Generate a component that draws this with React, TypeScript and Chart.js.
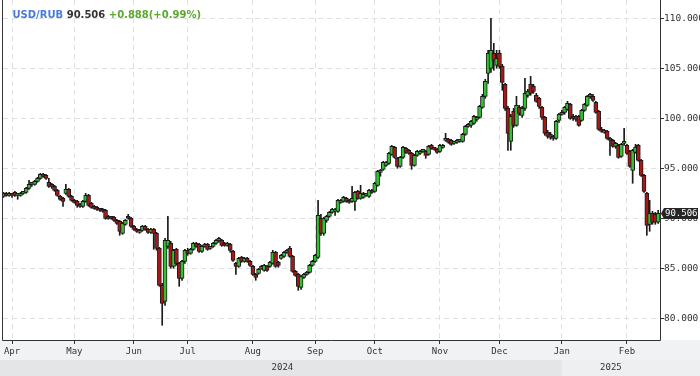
import React, { useEffect, useRef } from 'react';
import { Chart, registerables } from 'chart.js';

Chart.register(...registerables);

// ---------- header texts ----------
const SYMBOL = 'USD/RUB';
const LAST_TEXT = '90.506';
const CHANGE_TEXT = '+0.888(+0.99%)';

// ---------- calendar (trading days) ----------
const FIRST_DAY = '2024-03-27';
const LAST_DAY = '2025-02-18';
const HOLIDAYS = ['2024-05-01', '2024-05-09', '2024-06-12'];
const MONTH_NAMES = ['Jan', 'Feb', 'Mar', 'Apr', 'May', 'Jun', 'Jul', 'Aug', 'Sep', 'Oct', 'Nov', 'Dec'];
const Y_TICKS = [80, 85, 90, 95, 100, 105, 110];

// ---------- OHLC (Mar27-Apr | May | Jun | Jul | Aug | Sep | Oct | Nov | Dec | Jan | Feb) ----------
const OPEN = [
  92.2, 92.5, 92.3, 92.4, 92.6, 92.3, 92.3, 92.5, 92.6, 93.0, 93.4, 93.4, 93.7, 94.0, 94.4, 94.3, 93.6, 93.4, 93.2, 92.8, 92.2, 92.0, 92.5, 92.9, 92.2,
  91.8, 91.7, 91.4, 91.2, 91.7, 92.3, 91.5, 91.2, 91.1, 90.9, 90.9, 90.8, 90.2, 90.1, 90.1, 89.8, 89.7, 88.5, 89.4, 90.2, 90.0,
  89.2, 88.9, 88.6, 88.8, 89.2, 88.9, 88.6, 88.9, 88.5, 87.0, 83.3, 81.7, 87.2, 87.5, 85.2, 86.9, 85.5, 84.0, 85.7,
  86.8, 86.5, 86.9, 87.5, 87.4, 86.7, 87.2, 87.4, 87.0, 87.2, 87.5, 87.8, 87.8, 87.5, 87.3, 87.4, 86.7, 85.5, 85.2, 86.1, 85.7, 86.0, 85.7,
  85.2, 84.4, 84.5, 85.0, 84.8, 85.2, 85.2, 85.5, 86.6, 85.6, 86.0, 86.2, 86.6, 87.0, 86.2, 84.7, 84.4, 83.1, 84.1, 84.4, 84.6, 85.3,
  85.7, 86.1, 90.0, 88.5, 89.8, 90.2, 90.6, 90.7, 90.7, 91.6, 91.7, 92.0, 91.8, 91.7, 91.7, 92.7, 92.0, 92.1, 92.3, 92.2, 92.8,
  92.7, 93.3, 94.6, 94.9, 95.3, 95.5, 96.4, 97.1, 96.0, 95.2, 96.1, 97.0, 96.8, 96.5, 95.3, 96.3, 96.5, 96.7, 96.7, 96.4, 97.3, 97.0, 96.9,
  96.7, 97.1, 97.8, 97.9, 97.8, 97.5, 97.6, 97.7, 97.7, 98.4, 99.2, 99.3, 99.5, 99.9, 100.1, 101.1, 102.2, 104.5, 105.0, 106.5, 105.3,
  106.5, 105.2, 103.4, 101.0, 97.7, 100.7, 99.3, 101.1, 100.3, 101.0, 102.3, 103.4, 103.2, 102.3, 102.0, 101.1, 100.1, 98.6, 98.4, 98.2, 98.0, 99.8,
  100.4, 100.6, 100.9, 101.4, 100.2, 100.2, 100.2, 99.8, 100.8, 101.3, 102.2, 102.2, 101.6, 100.7, 98.9, 98.6, 98.7, 98.0, 97.8, 97.2, 97.3, 96.2, 97.5,
  97.3, 96.7, 94.8, 96.6, 97.3, 95.8, 94.3, 92.5, 89.4, 90.5, 90.4, 89.618,
];
const HIGH = [
  92.6, 92.6, 92.6, 92.5, 92.7, 92.5, 92.6, 92.7, 93.1, 93.8, 93.6, 93.8, 94.1, 94.5, 94.5, 94.4, 94.0, 93.5, 93.3, 92.9, 92.3, 92.1, 93.4, 93.0, 92.3,
  91.9, 91.8, 91.5, 91.8, 92.5, 92.4, 91.6, 91.3, 91.2, 91.0, 91.0, 90.9, 90.3, 90.2, 90.2, 89.9, 89.8, 89.6, 89.9, 90.4, 90.1,
  89.3, 89.0, 88.9, 89.3, 89.3, 89.0, 89.0, 89.0, 88.6, 87.1, 83.5, 88.0, 90.2, 87.7, 86.9, 87.0, 85.6, 85.8, 86.9,
  87.0, 87.0, 87.6, 87.6, 87.5, 87.3, 87.5, 87.5, 87.2, 87.6, 87.9, 88.1, 87.9, 87.6, 87.6, 87.5, 86.8, 85.6, 86.1, 86.2, 86.1, 86.1, 85.8,
  85.3, 84.5, 85.0, 85.3, 85.4, 85.3, 85.7, 86.8, 86.7, 85.7, 86.4, 86.7, 86.9, 87.2, 86.3, 84.8, 84.5, 84.3, 84.5, 84.7, 85.4, 85.8,
  86.4, 91.8, 90.4, 90.1, 90.3, 90.7, 91.0, 91.0, 91.9, 91.9, 92.2, 92.1, 91.9, 93.2, 92.7, 92.8, 93.3, 92.6, 92.5, 92.9, 92.9,
  93.6, 94.8, 94.9, 95.7, 95.7, 96.6, 97.3, 97.2, 96.1, 96.2, 97.2, 97.1, 96.9, 96.6, 96.4, 96.8, 96.8, 96.9, 96.8, 97.3, 97.4, 97.1, 97.0,
  97.4, 97.4, 98.5, 98.0, 97.9, 97.7, 97.9, 97.9, 98.5, 99.3, 99.5, 99.8, 100.3, 100.2, 101.3, 102.4, 103.9, 106.8, 110.0, 107.5, 106.8,
  106.8, 105.4, 103.5, 101.2, 100.4, 101.0, 102.2, 101.3, 101.2, 104.0, 102.9, 104.2, 103.4, 102.5, 102.1, 101.2, 100.2, 98.8, 98.6, 98.3, 99.8, 100.5,
  100.8, 101.2, 101.7, 101.5, 100.4, 100.3, 100.3, 100.9, 101.5, 102.3, 102.5, 102.4, 101.7, 100.8, 99.1, 98.9, 98.8, 98.1, 97.9, 97.6, 97.4, 97.5, 99.0,
  97.4, 96.8, 96.9, 97.4, 97.4, 95.9, 94.4, 92.6, 91.8, 90.7, 90.6, 90.8,
];
const LOW = [
  92.1, 92.2, 92.2, 92.1, 92.2, 91.9, 92.2, 92.4, 92.5, 92.9, 93.2, 93.3, 93.6, 93.9, 94.1, 93.9, 93.1, 93.0, 92.7, 92.2, 91.8, 91.2, 92.4, 92.1, 91.7,
  91.5, 91.1, 91.1, 91.1, 91.6, 91.2, 91.0, 90.9, 90.8, 90.7, 90.6, 89.9, 89.9, 89.9, 89.7, 89.4, 88.3, 88.4, 89.3, 89.9, 89.1,
  88.8, 88.6, 88.5, 88.7, 88.8, 88.5, 88.5, 86.9, 86.8, 83.2, 79.3, 81.3, 87.0, 85.0, 85.0, 85.3, 83.2, 83.8, 85.5,
  86.3, 86.4, 86.8, 87.1, 86.6, 86.6, 87.1, 86.8, 86.9, 87.1, 87.4, 87.6, 87.2, 87.2, 87.2, 86.6, 85.7, 84.4, 85.1, 85.6, 85.6, 85.6, 85.2,
  84.3, 83.8, 84.4, 84.9, 84.7, 84.7, 85.1, 85.4, 85.1, 85.1, 85.9, 86.1, 86.5, 86.1, 84.6, 84.2, 82.8, 82.9, 84.0, 84.3, 84.5, 85.2,
  85.6, 86.0, 88.3, 88.3, 89.6, 90.1, 90.5, 90.3, 90.6, 91.5, 91.6, 91.6, 91.5, 91.6, 90.8, 91.9, 91.9, 92.0, 92.2, 92.1, 92.5,
  92.6, 93.2, 94.2, 94.8, 95.2, 95.4, 96.3, 96.0, 95.0, 95.1, 96.0, 96.5, 96.4, 94.9, 95.2, 96.2, 96.4, 96.6, 96.0, 96.3, 96.9, 96.8, 96.5,
  96.6, 97.0, 97.7, 97.5, 97.3, 97.4, 97.5, 97.6, 97.6, 98.3, 99.1, 99.1, 99.4, 99.7, 100.0, 101.0, 102.0, 103.5, 104.6, 104.8, 105.0,
  105.0, 102.8, 100.8, 96.8, 96.8, 99.1, 99.2, 100.3, 100.1, 100.8, 102.1, 102.3, 102.5, 101.6, 101.0, 99.9, 98.3, 98.0, 97.9, 97.8, 97.9, 99.6,
  100.3, 100.4, 100.8, 99.9, 99.8, 99.7, 99.2, 99.7, 100.7, 101.2, 102.0, 101.7, 100.5, 98.8, 98.6, 98.5, 97.9, 96.3, 97.1, 97.0, 96.0, 96.1, 97.3,
  96.4, 95.1, 93.5, 96.5, 95.7, 94.2, 92.6, 88.3, 88.7, 89.4, 89.4, 89.5,
];
const CLOSE = [
  92.5, 92.3, 92.4, 92.3, 92.3, 92.4, 92.5, 92.6, 93.0, 93.4, 93.5, 93.7, 94.0, 94.4, 94.2, 94.0, 93.2, 93.2, 92.8, 92.3, 91.9, 91.7, 92.9, 92.2, 91.8,
  91.6, 91.3, 91.2, 91.7, 92.3, 91.3, 91.1, 91.0, 90.9, 90.8, 90.7, 90.0, 90.0, 90.0, 89.8, 89.5, 88.7, 89.5, 89.8, 90.0, 89.2,
  88.9, 88.7, 88.8, 89.2, 88.9, 88.6, 88.9, 88.5, 87.0, 83.3, 81.5, 87.8, 87.8, 85.2, 86.8, 85.5, 84.0, 85.7, 86.8,
  86.5, 86.9, 87.5, 87.2, 86.7, 87.2, 87.4, 86.9, 87.1, 87.5, 87.8, 87.8, 87.3, 87.3, 87.5, 86.8, 85.8, 85.2, 86.0, 85.7, 86.0, 85.7, 85.3,
  84.4, 84.1, 84.9, 85.2, 85.3, 84.8, 85.6, 86.6, 85.2, 85.3, 86.3, 86.6, 86.7, 86.2, 84.7, 84.3, 83.2, 84.2, 84.4, 84.6, 85.3, 85.7,
  86.3, 90.3, 88.5, 90.0, 90.2, 90.6, 90.9, 90.9, 91.8, 91.8, 92.1, 91.7, 91.6, 92.0, 92.6, 92.0, 92.5, 92.4, 92.4, 92.8, 92.6,
  93.5, 94.7, 94.8, 95.6, 95.6, 96.5, 97.2, 96.1, 95.2, 96.1, 97.1, 96.6, 96.5, 95.3, 96.3, 96.7, 96.7, 96.8, 96.3, 97.2, 97.0, 96.9, 96.6,
  97.3, 97.3, 97.9, 97.6, 97.4, 97.5, 97.8, 97.8, 98.4, 99.2, 99.4, 99.7, 100.2, 100.0, 101.2, 102.2, 103.7, 106.5, 106.8, 105.8, 106.0,
  105.2, 103.6, 101.0, 98.5, 100.2, 99.3, 101.3, 100.5, 101.0, 102.5, 102.7, 102.5, 102.7, 101.7, 101.2, 100.1, 98.5, 98.2, 98.1, 98.0, 99.7, 100.4,
  100.6, 101.1, 101.5, 100.0, 100.0, 99.9, 99.3, 100.8, 101.4, 102.2, 102.3, 101.8, 100.6, 98.9, 98.7, 98.8, 98.0, 97.8, 97.2, 97.5, 96.1, 97.4, 97.7,
  96.5, 95.2, 96.8, 97.1, 95.8, 94.3, 92.7, 89.3, 90.5, 89.6, 89.618, 90.506,
];

// ---------- styles ----------
const UP_FILL = '#33c033';
const DOWN_FILL = '#a81818';
const CANDLE_EDGE = '#1a1a1a';
const GRID = '#e0e0e0';
const AXIS = '#333333';
const MONO = '"DejaVu Sans Mono", monospace';

function tradingDays(): string[] {
  const out: string[] = [];
  const [y0, m0, d0] = FIRST_DAY.split('-').map(Number);
  const [y1, m1, d1] = LAST_DAY.split('-').map(Number);
  const end = Date.UTC(y1, m1 - 1, d1);
  for (let t = Date.UTC(y0, m0 - 1, d0); t <= end; t += 86400000) {
    const d = new Date(t);
    const wd = d.getUTCDay();
    const iso = d.toISOString().slice(0, 10);
    if (wd === 0 || wd === 6 || HOLIDAYS.includes(iso)) continue;
    out.push(iso);
  }
  return out;
}

const DATES = tradingDays();
const monthOf = (i: number) => Number(DATES[i].slice(5, 7)) - 1;
const MONTH_IDX: number[] = [];
for (let i = 1; i < DATES.length; i++) {
  if (monthOf(i) !== monthOf(i - 1)) MONTH_IDX.push(i);
}
const YEAR_IDX = MONTH_IDX.find((i) => monthOf(i) === 0) as number;

export default function App() {
  const ref = useRef<HTMLCanvasElement | null>(null);

  useEffect(() => {
    document.body.style.margin = '0';
    const canvas = ref.current;
    if (!canvas) return;
    const n = Math.min(DATES.length, OPEN.length);
    const idx = Array.from({ length: n }, (_, i) => i);
    const upColors = idx.map((i) => (CLOSE[i] >= OPEN[i] ? UP_FILL : DOWN_FILL));

    const decor = {
      id: 'decor',
      beforeDraw(chart: any) {
        const { ctx, width, height } = chart;
        const xs = chart.scales.x;
        const ca = chart.chartArea;
        const janX = xs.getPixelForValue(YEAR_IDX);
        ctx.save();
        ctx.fillStyle = '#ffffff';
        ctx.fillRect(0, 0, width, height);
        ctx.fillStyle = '#f1f2f4';
        ctx.fillRect(0, ca.bottom, width, height - ca.bottom);
        ctx.fillStyle = '#e4e5e7';
        ctx.fillRect(0, ca.bottom + 20, janX, height - ca.bottom - 20);
        ctx.fillStyle = '#eeeff1';
        ctx.fillRect(janX, ca.bottom + 20, width - janX, height - ca.bottom - 20);
        ctx.restore();
      },
      afterDraw(chart: any) {
        const { ctx } = chart;
        const ca = chart.chartArea;
        const xs = chart.scales.x;
        const ys = chart.scales.y;
        const janX = xs.getPixelForValue(YEAR_IDX);
        ctx.save();
        // frame
        ctx.strokeStyle = AXIS;
        ctx.lineWidth = 1;
        ctx.beginPath();
        ctx.moveTo(ca.left - 0.5, ca.top);
        ctx.lineTo(ca.left - 0.5, ca.bottom + 0.5);
        ctx.lineTo(ca.right + 0.5, ca.bottom + 0.5);
        ctx.lineTo(ca.right + 0.5, ca.top);
        ctx.stroke();
        // years
        ctx.fillStyle = AXIS;
        ctx.font = '9px ' + MONO;
        ctx.textAlign = 'center';
        ctx.textBaseline = 'middle';
        const yy = ca.bottom + 28;
        ctx.fillText(String(DATES[YEAR_IDX - 1].slice(0, 4)), (ca.left + janX) / 2, yy);
        ctx.fillText(String(DATES[YEAR_IDX].slice(0, 4)), (janX + ca.right) / 2, yy);
        // title
        ctx.textAlign = 'left';
        ctx.textBaseline = 'alphabetic';
        ctx.font = 'bold 10px "DejaVu Sans", sans-serif';
        let tx = 12.5;
        const ty = 17.5;
        const parts: [string, string][] = [
          [SYMBOL, '#4a7bd4'],
          [' ' + LAST_TEXT, '#333333'],
          [' ' + CHANGE_TEXT, '#5aa82c'],
        ];
        for (const [t, c] of parts) {
          ctx.fillStyle = c;
          ctx.fillText(t, tx, ty);
          tx += ctx.measureText(t).width;
        }
        // last price marker
        const py = Math.round(ys.getPixelForValue(CLOSE[n - 1]));
        const bx = ca.right + 4;
        ctx.fillStyle = '#262626';
        ctx.beginPath();
        ctx.moveTo(ca.right + 1, py + 0.5);
        ctx.lineTo(bx, py - 5);
        ctx.lineTo(698, py - 5);
        ctx.lineTo(698, py + 6);
        ctx.lineTo(bx, py + 6);
        ctx.closePath();
        ctx.fill();
        ctx.fillStyle = '#ffffff';
        ctx.font = '9px ' + MONO;
        ctx.textBaseline = 'middle';
        ctx.fillText(LAST_TEXT, bx + 1, py + 0.5);
        ctx.restore();
      },
    };

    const chart = new Chart(canvas, {
      type: 'bar',
      data: {
        datasets: [
          {
            label: 'body',
            data: idx.map((i) => ({ x: i, y: [OPEN[i], CLOSE[i]] })) as any,
            backgroundColor: upColors,
            borderColor: CANDLE_EDGE,
            borderWidth: 1,
            borderSkipped: false,
            barThickness: 4,
            minBarLength: 2,
            grouped: false,
            order: 0,
          } as any,
          {
            label: 'wick',
            data: idx.map((i) => ({ x: i, y: [LOW[i], HIGH[i]] })) as any,
            backgroundColor: CANDLE_EDGE,
            borderWidth: 0,
            barThickness: 1,
            grouped: false,
            order: 1,
          } as any,
        ],
      },
      options: {
        animation: false,
        responsive: false,
        devicePixelRatio: 1,
        layout: { padding: { left: 3, top: 0, right: 0, bottom: 0 } },
        plugins: {
          legend: { display: false },
          tooltip: { enabled: false },
        },
        scales: {
          x: {
            type: 'linear',
            min: -0.18,
            max: 231.65,
            offset: false,
            grid: {
              offset: false,
              color: GRID,
              lineWidth: 1,
              drawTicks: true,
              tickLength: 4,
              tickColor: AXIS,
              tickBorderDash: [],
            } as any,
            border: { display: false, dash: [5, 4] },
            ticks: {
              autoSkip: false,
              maxRotation: 0,
              padding: 2,
              color: AXIS,
              font: { family: MONO, size: 9 },
              callback: (v: any) => MONTH_NAMES[monthOf(Math.round(Number(v)))],
            },
            afterBuildTicks: (s: any) => {
              s.ticks = MONTH_IDX.map((v) => ({ value: v }));
            },
            afterFit: (s: any) => {
              s.height = 36;
              s.paddingLeft = 0;
              s.paddingRight = 0;
            },
          } as any,
          y: {
            type: 'linear',
            position: 'right',
            min: 77.83,
            max: 111.83,
            grid: {
              color: GRID,
              lineWidth: 1,
              drawTicks: true,
              tickLength: 4,
              tickColor: AXIS,
              tickBorderDash: [],
            } as any,
            border: { display: false, dash: [5, 4] },
            ticks: {
              padding: 0,
              color: AXIS,
              font: { family: MONO, size: 9.5 },
              callback: (v: any) => Number(v).toFixed(3),
            },
            afterBuildTicks: (s: any) => {
              s.ticks = Y_TICKS.map((v) => ({ value: v }));
            },
            afterFit: (s: any) => {
              s.width = 40;
              s.paddingTop = 0;
              s.paddingBottom = 0;
            },
          } as any,
        },
      },
      plugins: [decor],
    });
    return () => chart.destroy();
  }, []);

  return (
    <div style={{ width: 700, height: 376, position: 'relative' }}>
      <canvas ref={ref} width={700} height={376} style={{ display: 'block' }} />
    </div>
  );
}
